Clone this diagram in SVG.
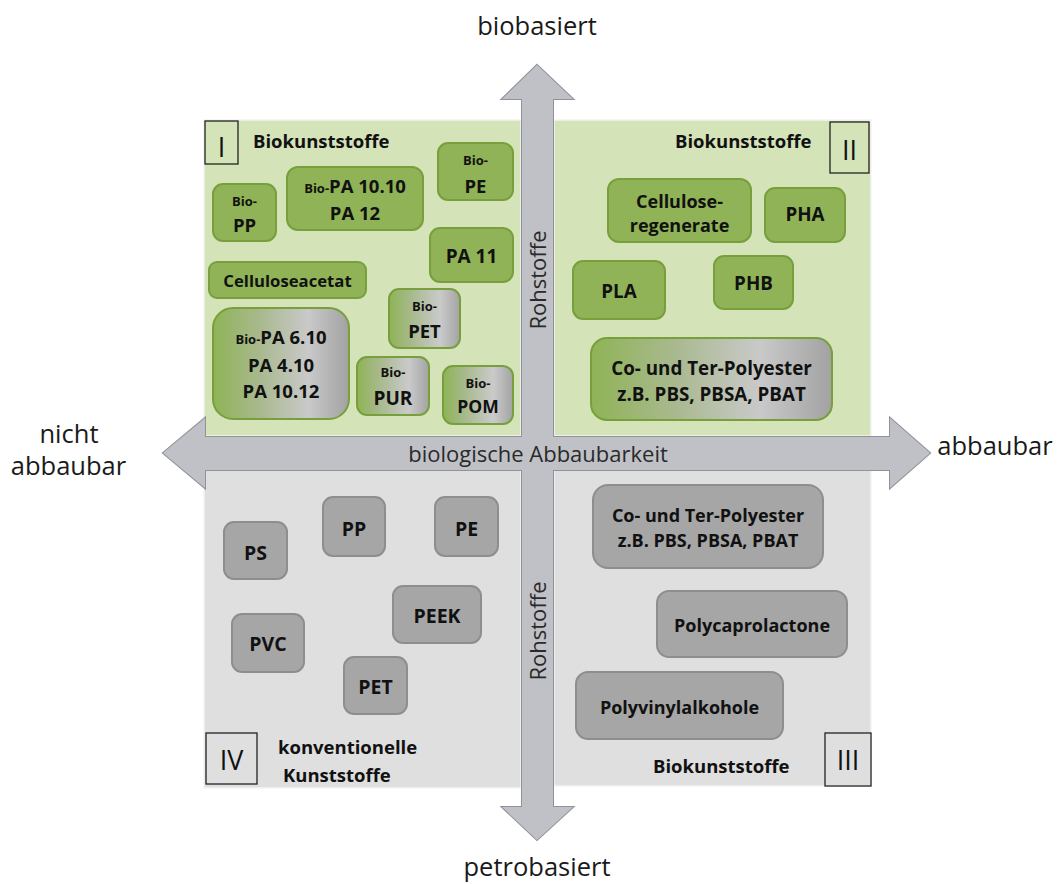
<svg xmlns="http://www.w3.org/2000/svg" width="1059" height="884" viewBox="0 0 1059 884">
<defs>
<linearGradient id="gg" x1="0" y1="0" x2="1" y2="0">
<stop offset="0" stop-color="#8fb356"/>
<stop offset="0.35" stop-color="#a9b98f"/>
<stop offset="0.7" stop-color="#c9c9c9"/>
<stop offset="1" stop-color="#a2a2a2"/>
</linearGradient>
<linearGradient id="gs" x1="0" y1="0" x2="1" y2="0">
<stop offset="0" stop-color="#8fb356"/>
<stop offset="0.3" stop-color="#a6b98a"/>
<stop offset="0.72" stop-color="#cacaca"/>
<stop offset="1" stop-color="#a3a3a3"/>
</linearGradient>
</defs>
<style>
text{font-family:"Open Sans","Liberation Sans",sans-serif;fill:#111;}
.b{font-weight:700;text-anchor:middle;dominant-baseline:central;}
.a{font-weight:700;text-anchor:middle;}
.s{font-size:13px;}
.m{font-size:18px;}
.l{font-size:18.5px;}
.q2{font-size:18.8px;}
.q4{font-size:19.5px;}
.ax{font-size:25.5px;text-anchor:middle;fill:#1a1a1a;}
.ax2{font-size:22px;text-anchor:middle;dominant-baseline:central;fill:#2a2a2a;}
.gn{fill:#8fb356;stroke:#77a03c;stroke-width:2;}
.gr{fill:url(#gg);stroke:#77a03c;stroke-width:2;}
.gr2{fill:url(#gs);stroke:#77a03c;stroke-width:2;}
.gy{fill:#a6a6a6;stroke:#8e8e8e;stroke-width:2;}
.num{fill:none;stroke:#222;stroke-width:1.3;}
.nt{font-size:27px;text-anchor:middle;dominant-baseline:central;}
.ql{font-size:18.5px;font-weight:700;dominant-baseline:central;}
</style>
<rect width="1059" height="884" fill="#ffffff"/>
<g id="quadrants">
<rect x="204" y="120" width="317" height="316" fill="#d5e3b8" stroke="#f4f4f4" stroke-width="1.5"/>
<rect x="554" y="120" width="317" height="316" fill="#d5e3b8" stroke="#f4f4f4" stroke-width="1.5"/>
<rect x="204" y="470" width="317" height="318" fill="#dfdfdf" stroke="#f4f4f4" stroke-width="1.5"/>
<rect x="554" y="470" width="317" height="316" fill="#dfdfdf" stroke="#f4f4f4" stroke-width="1.5"/>
</g>
<g id="connectors">
<polygon points="537,65 573,99 553,99 553,807 573,807 537,840 502,807 522,807 522,99 502,99" fill="#c0c1c6" stroke="#8f929b" stroke-width="2"/>
<polygon points="163,453 205,418 205,437 890,437 890,418 930,453 890,488 890,470 205,470 205,488" fill="#c0c1c6" stroke="#8f929b" stroke-width="2"/>
<polygon points="537,65 573,99 553,99 553,807 573,807 537,840 502,807 522,807 522,99 502,99" fill="#c0c1c6"/>
<polygon points="163,453 205,418 205,437 890,437 890,418 930,453 890,488 890,470 205,470 205,488" fill="#c0c1c6"/>
<text class="ax2" x="538" y="453">biologische Abbaubarkeit</text>
<text class="ax2" transform="translate(537,280) rotate(-90)">Rohstoffe</text>
<text class="ax2" transform="translate(537,631) rotate(-90)">Rohstoffe</text>
</g>
<g id="axis-labels">
<text class="ax" x="537" y="35">biobasiert</text>
<text class="ax" x="537" y="876">petrobasiert</text>
<text class="ax" x="69" y="443">nicht</text>
<text class="ax" x="68.5" y="475">abbaubar</text>
<text class="ax" x="995" y="455">abbaubar</text>
</g>
<g id="quadrant-I">
<rect class="num" x="205" y="121" width="33" height="43"/>
<text class="nt" x="221.5" y="146">I</text>
<text class="ql" x="253" y="140">Biokunststoffe</text>
</g>
<g id="quadrant-II">
<rect class="num" x="830" y="122" width="39" height="51"/>
<text class="nt" x="849.5" y="149">II</text>
<text class="ql" x="675" y="140">Biokunststoffe</text>
</g>
<g id="quadrant-III">
<rect class="num" x="825" y="733" width="46" height="53"/>
<text class="nt" x="848" y="759">III</text>
<text class="ql" x="653" y="765">Biokunststoffe</text>
</g>
<g id="quadrant-IV">
<rect class="num" x="206" y="733" width="51" height="51"/>
<text class="nt" x="231.5" y="759">IV</text>
<text class="ql" x="278" y="746">konventionelle</text>
<text class="ql" x="283" y="774">Kunststoffe</text>
</g>
<g id="bio-pe"><rect class="gn" x="438" y="143" width="75" height="57" rx="10"/><text class="b s" x="475.5" y="160">Bio-</text><text class="b l" x="475.5" y="185">PE</text></g>
<g id="bio-pp"><rect class="gn" x="213" y="184" width="63" height="57" rx="10"/><text class="b s" x="244.5" y="201">Bio-</text><text class="b l" x="244.5" y="224">PP</text></g>
<g id="bio-pa1010"><rect class="gn" x="287" y="167" width="136" height="63" rx="11"/><text class="a l" x="355" y="193"><tspan class="s">Bio-</tspan>PA 10.10</text><text class="b l" x="355" y="212">PA 12</text></g>
<g id="pa11"><rect class="gn" x="430" y="228" width="83" height="54" rx="10"/><text class="b" style="font-size:19px" x="471.5" y="256">PA 11</text></g>
<g id="celluloseacetat"><rect class="gn" x="209" y="262" width="157" height="36" rx="8"/><text class="b" style="font-size:16.7px" x="287.5" y="280">Celluloseacetat</text></g>
<g id="bio-pet"><rect class="gr2" x="389" y="289" width="71" height="59" rx="10"/><text class="b s" x="424.5" y="306">Bio-</text><text class="b l" x="424.5" y="330">PET</text></g>
<g id="bio-pa610"><rect class="gr" x="213" y="308" width="136" height="111" rx="20"/><text class="a l" x="281" y="344"><tspan class="s">Bio-</tspan>PA 6.10</text><text class="b l" x="281" y="364">PA 4.10</text><text class="b l" x="281" y="390">PA 10.12</text></g>
<g id="bio-pur"><rect class="gr2" x="357" y="357" width="72" height="58" rx="10"/><text class="b s" x="393" y="372">Bio-</text><text class="b" style="font-size:19px" x="393" y="398">PUR</text></g>
<g id="bio-pom"><rect class="gr2" x="443" y="366" width="70" height="58" rx="10"/><text class="b s" x="478" y="383">Bio-</text><text class="b" style="font-size:17.5px" x="478" y="406">POM</text></g>
<g id="cellulose-regenerate"><rect class="gn" x="608" y="179" width="143" height="63" rx="11"/><text class="b m" x="679.5" y="201">Cellulose-</text><text class="b m" x="679.5" y="225">regenerate</text></g>
<g id="pha"><rect class="gn" x="765" y="188" width="80" height="54" rx="10"/><text class="b q2" x="805" y="214">PHA</text></g>
<g id="pla"><rect class="gn" x="573" y="261" width="92" height="58" rx="10"/><text class="b q2" x="619" y="291">PLA</text></g>
<g id="phb"><rect class="gn" x="714" y="256" width="79" height="53" rx="10"/><text class="b q2" x="753.5" y="283">PHB</text></g>
<g id="co-ter-bio"><rect class="gr" x="591" y="338" width="241" height="82" rx="16"/><text class="b q2" x="711.5" y="368">Co- und Ter-Polyester</text><text class="b q2" x="711.5" y="394">z.B. PBS, PBSA, PBAT</text></g>
<g id="ps"><rect class="gy" x="224" y="522" width="63" height="57" rx="10"/><text class="b q4" x="255.5" y="552">PS</text></g>
<g id="pp"><rect class="gy" x="323" y="497" width="62" height="59" rx="10"/><text class="b q4" x="354" y="528">PP</text></g>
<g id="pe"><rect class="gy" x="435" y="497" width="63" height="59" rx="10"/><text class="b q4" x="466.5" y="528">PE</text></g>
<g id="peek"><rect class="gy" x="393" y="586" width="88" height="57" rx="10"/><text class="b q4" x="437" y="615">PEEK</text></g>
<g id="pvc"><rect class="gy" x="232" y="614" width="72" height="58" rx="10"/><text class="b q4" x="268" y="643">PVC</text></g>
<g id="pet"><rect class="gy" x="344" y="657" width="63" height="57" rx="10"/><text class="b q4" x="375.5" y="686">PET</text></g>
<g id="co-ter-petro"><rect class="gy" x="593" y="485" width="230" height="83" rx="15"/><text class="b m" x="708" y="515">Co- und Ter-Polyester</text><text class="b m" x="708" y="540">z.B. PBS, PBSA, PBAT</text></g>
<g id="polycaprolactone"><rect class="gy" x="657" y="591" width="190" height="66" rx="12"/><text class="b m" x="752" y="625">Polycaprolactone</text></g>
<g id="polyvinylalkohole"><rect class="gy" x="576" y="672" width="207" height="67" rx="12"/><text class="b m" x="679.5" y="707">Polyvinylalkohole</text></g>
</svg>
